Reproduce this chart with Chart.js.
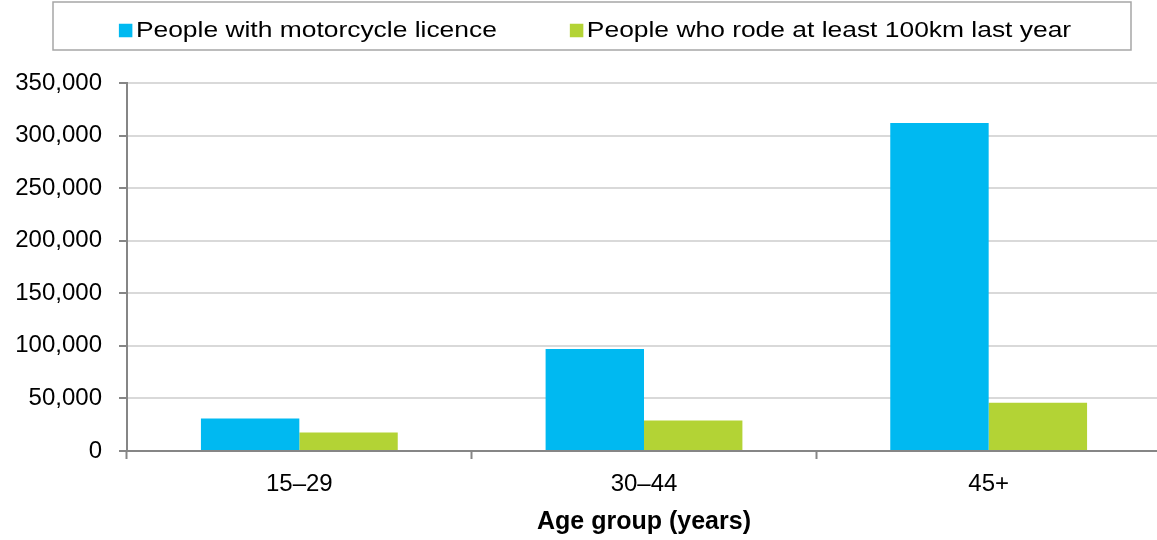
<!DOCTYPE html>
<html>
<head>
<meta charset="utf-8">
<script src="https://cdn.jsdelivr.net/npm/chart.js@4"></script>
<style>
  html, body { margin: 0; padding: 0; background: #fff; overflow: hidden; }
  #wrap { position: relative; width: 1161px; height: 540px; }
</style>
</head>
<body>
<div id="wrap"><canvas id="chart"></canvas></div>
<script>
// age groups on the x axis
const categories = ['15–29', '30–44', '45+'];

// series values
const licenceHolders = [31000, 97000, 312000];
const riders100km = [17500, 29000, 46000];

const seriesNames = ['People with motorcycle licence', 'People who rode at least 100km last year'];
const seriesColors = ['#00B9F1', '#B3D335'];

const yTicks = { min: 0, max: 350000, step: 50000 };
const xTitle = 'Age group (years)';

const FONT = "'Liberation Sans', Arial, sans-serif";

// legend drawn in a box above the plot, like the original (text is a bit wide there)
const boxedLegend = {
  id: 'boxedLegend',
  afterDraw(chart) {
    const ctx = chart.ctx;
    const boxL = 53, boxR = 1131, boxT = 2, boxB = 50;
    const sw = 13.5, gapText = 3.5, gapItem = 73, stretch = 1.2;
    ctx.save();
    ctx.strokeStyle = '#A6A6A6';
    ctx.lineWidth = 1.5;
    ctx.strokeRect(boxL, boxT, boxR - boxL, boxB - boxT);

    ctx.font = '22px ' + FONT;
    ctx.textBaseline = 'middle';
    const items = chart.data.datasets.map(ds => ({ text: ds.label, color: ds.backgroundColor }));
    const widths = items.map(it => sw + gapText + ctx.measureText(it.text).width * stretch);
    const total = widths.reduce((a, b) => a + b, 0) + gapItem * (items.length - 1);
    let x = (boxL + boxR) / 2 + 3 - total / 2;
    const cy = 30.5;
    items.forEach((it, i) => {
      ctx.fillStyle = it.color;
      ctx.fillRect(x, cy - sw / 2, sw, sw);
      ctx.fillStyle = '#000';
      ctx.save();
      ctx.translate(x + sw + gapText, cy);
      ctx.scale(stretch, 1);
      ctx.fillText(it.text, 0, 0);
      ctx.restore();
      x += widths[i] + gapItem;
    });
    ctx.restore();
  }
};

const ctx = document.getElementById('chart');
new Chart(ctx, {
  type: 'bar',
  data: {
    labels: categories,
    datasets: [
      { label: seriesNames[0], data: licenceHolders, backgroundColor: seriesColors[0] },
      { label: seriesNames[1], data: riders100km, backgroundColor: seriesColors[1] }
    ]
  },
  options: {
    responsive: true,
    maintainAspectRatio: false,
    animation: false,
    categoryPercentage: 0.571,
    barPercentage: 1.0,
    layout: { padding: { top: 83, left: 0, right: 0, bottom: 0 } },
    plugins: {
      legend: { display: false },
      tooltip: { enabled: false }
    },
    scales: {
      x: {
        offset: true,
        grid: {
          offset: true,
          drawOnChartArea: false,
          drawTicks: true,
          tickLength: 8,
          tickColor: '#868686',
          tickWidth: 2
        },
        border: { color: '#868686', width: 2 },
        ticks: { color: '#000', font: { family: FONT, size: 24 }, padding: 11 },
        title: {
          display: true,
          text: xTitle,
          color: '#000',
          font: { family: FONT, size: 25, weight: 'bold' },
          padding: { top: 4, bottom: 3 }
        },
        afterFit(scale) { scale.height = 89; }
      },
      y: {
        min: yTicks.min,
        max: yTicks.max,
        ticks: {
          stepSize: yTicks.step,
          color: '#000',
          font: { family: FONT, size: 24 },
          padding: 17,
          callback: v => v.toLocaleString('en-US')
        },
        grid: {
          color: '#D9D9D9',
          lineWidth: 2,
          tickColor: '#868686',
          tickLength: 8,
          tickWidth: 2
        },
        border: { color: '#868686', width: 2 },
        afterFit(scale) { scale.width = 127; }
      }
    }
  },
  plugins: [boxedLegend]
});
</script>
</body>
</html>
